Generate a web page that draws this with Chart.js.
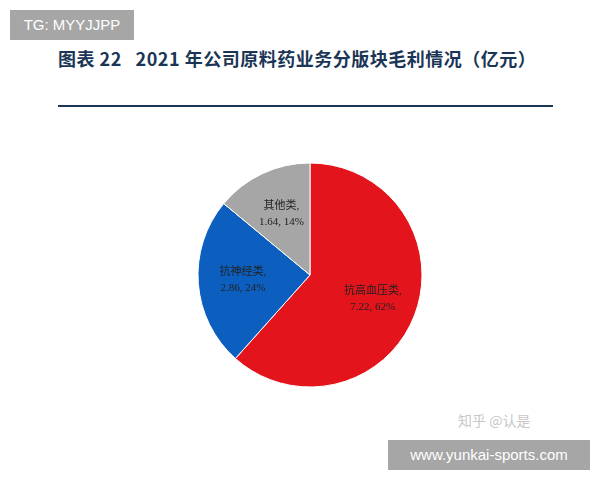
<!DOCTYPE html>
<html>
<head>
<meta charset="utf-8">
<script src="https://cdn.jsdelivr.net/npm/chart.js@4"></script>
<style>
  body { margin: 0; width: 600px; height: 480px; background: #fff; position: relative; overflow: hidden;
         font-family: "Noto Sans CJK SC", "Noto Sans", sans-serif; }
  #tg { position: absolute; left: 10px; top: 10px; width: 124px; height: 30px; background: #a6a6a6;
        color: #fff; font: 15px "Liberation Sans", sans-serif; line-height: 30px; text-align: center; }
  #title { position: absolute; left: 58px; top: 42px; width: 500px; color: #1a3556; font-weight: bold;
           font-size: 18px; line-height: 32px; letter-spacing: 0.5px; }
  #rule { position: absolute; left: 58px; top: 105px; width: 495px; height: 2px; background: #1a3556; }
  #wrap { position: absolute; left: 150px; top: 155px; width: 320px; height: 240px; }
  #zh { position: absolute; left: 458px; top: 410px; color: #c8c8c8; font-size: 14px; }
  #site { position: absolute; left: 388px; top: 440px; width: 202px; height: 30px; background: #a6a6a6;
          color: #fff; font: 15px "Liberation Sans", sans-serif; line-height: 30px; text-align: center; }
</style>
</head>
<body>
<div id="tg">TG: MYYJJPP</div>
<div id="title">图表 22&nbsp;&nbsp;&nbsp;2021 年公司原料药业务分版块毛利情况（亿元）</div>
<div id="rule"></div>
<div id="wrap"><canvas id="c"></canvas></div>
<div id="zh">知乎 @认是</div>
<div id="site">www.yunkai-sports.com</div>
<script>
const categories = ['抗高血压类', '抗神经类', '其他类'];
const values = [7.22, 2.86, 1.64];
const shares = ['62%', '24%', '14%'];
const colors = ['#e3141c', '#0c5fbf', '#a6a6a6'];

const sliceLabels = {
  id: 'sliceLabels',
  afterDatasetsDraw(chart) {
    const ctx = chart.ctx;
    const meta = chart.getDatasetMeta(0);
    ctx.save();
    ctx.fillStyle = '#222';
    ctx.font = '11px "Liberation Serif", "Noto Sans CJK SC", serif';
    ctx.textAlign = 'center';
    ctx.textBaseline = 'middle';
    meta.data.forEach((arc, i) => {
      const mid = (arc.startAngle + arc.endAngle) / 2;
      const r = arc.outerRadius * 0.6;
      const x = arc.x + Math.cos(mid) * r;
      const y = arc.y + Math.sin(mid) * r;
      ctx.fillText(categories[i] + ',', x, y - 8);
      ctx.fillText(values[i].toFixed(2) + ', ' + shares[i], x, y + 8);
    });
    ctx.restore();
  }
};

new Chart(document.getElementById('c'), {
  type: 'pie',
  data: { labels: categories, datasets: [{
    data: values, backgroundColor: colors, borderColor: '#fff', borderWidth: 1,
  }]},
  options: {
    responsive: true, maintainAspectRatio: false, animation: false,
    radius: 112,
    plugins: { legend: { display: false }, tooltip: { enabled: false } },
  },
  plugins: [sliceLabels],
});
</script>
</body>
</html>
